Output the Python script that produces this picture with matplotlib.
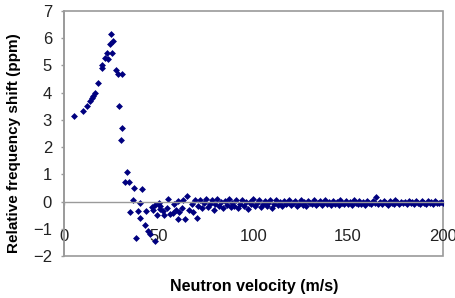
import matplotlib
matplotlib.use("Agg")
import matplotlib.pyplot as plt
from matplotlib.patches import Rectangle

plt.rcParams['font.family'] = ['Liberation Sans', 'DejaVu Sans']

# Early (low-velocity) points
vel_low = [5.3, 10.2, 12.0, 13.8, 14.6, 15.5, 16.4, 18.2, 19.9, 20.4, 21.7, 22.6, 23.1,
           24.3, 24.9, 25.2, 26.1, 27.5, 28.7, 29.3, 30.2, 30.5, 30.8, 32.3, 33.2, 34.4,
           34.9, 36.3, 37.0, 38.1, 39.0, 40.2, 40.2, 41.1, 42.9, 43.4, 44.6, 45.5, 46.4,
           47.0, 48.1, 48.1, 49.0, 50.4, 50.8, 51.0, 52.5, 53.0, 54.3, 55.0, 56.0, 57.8,
           58.0, 59.0, 60.5, 60.5, 61.0, 62.2, 63.0, 64.0, 64.9, 66.0, 67.5, 68.0, 69.0, 70.1]
shift_low = [3.16, 3.33, 3.51, 3.70, 3.82, 3.88, 4.00, 4.37, 4.92, 5.02, 5.29, 5.47, 5.23,
             5.78, 6.15, 5.47, 5.90, 4.83, 4.68, 3.51, 2.26, 4.70, 2.72, 0.70, 1.10, 0.70,
             -0.38, 0.05, 0.49, -1.33, -0.35, -0.04, -0.59, 0.47, -0.86, -0.35, -1.08, -1.20, -0.20,
             -0.30, -1.45, -0.12, -0.50, -0.04, -0.28, -0.15, -0.35, -0.50, -0.22, 0.10, -0.47, -0.41,
             -0.10, -0.30, 0.02, -0.65, -0.40, -0.22, 0.05, -0.65, 0.20, -0.30, -0.10, -0.40, 0.05, -0.59]

# Tail points, one per m/s from 71 to 200
vel_tail = list(range(71, 201))
shift_tail = [
    -0.15, 0.05, -0.25, -0.05, 0.10, -0.20, -0.10, 0.05, -0.30, -0.08,
    0.08, -0.18, -0.02, -0.25, 0.02, -0.12, 0.10, -0.20, -0.05, -0.15,
    0.05, -0.22, -0.08, 0.06, -0.15, -0.02, -0.28, 0.00, -0.10, 0.08,
    -0.18, -0.05, 0.04, -0.20, -0.10, 0.02, -0.15, -0.06, 0.05, -0.22,
    -0.08, 0.06, -0.12, -0.02, -0.18, 0.03, -0.10, -0.05, 0.07, -0.14,
    -0.04, 0.02, -0.16, -0.08, 0.04, -0.12, -0.02, -0.15, 0.03, -0.06,
    -0.10, 0.05, -0.14, -0.04, 0.02, -0.12, -0.06, 0.06, -0.10, -0.02,
    -0.14, 0.03, -0.08, -0.02, -0.12, 0.04, -0.06, -0.10, 0.02, -0.08,
    -0.03, -0.12, 0.04, -0.06, -0.10, 0.01, -0.08, -0.02, -0.12, 0.03,
    -0.06, -0.10, 0.02, -0.04, 0.15, -0.08, -0.02, -0.10, 0.03, -0.06,
    -0.12, 0.02, -0.05, -0.09, 0.04, -0.03, -0.10, 0.00, -0.07, -0.02,
    -0.10, 0.03, -0.06, -0.01, -0.09, 0.02, -0.05, -0.10, 0.01, -0.04,
    -0.08, 0.02, -0.06, -0.02, -0.09, 0.03, -0.04, -0.07, 0.00, -0.05,
]

x_ticks = [0, 50, 100, 150, 200]
y_ticks = [-2, -1, 0, 1, 2, 3, 4, 5, 6, 7]

fig = plt.figure(figsize=(4.56, 2.98), dpi=100)
ax = fig.add_axes([0.140, 0.141, 0.831, 0.822])

ax.plot(vel_low + vel_tail, shift_low + shift_tail, linestyle='none', marker='D',
        markersize=3.5, color='#00007f', markeredgewidth=0)

ax.set_xlim(0, 200)
ax.set_ylim(-2, 7)
ax.set_xticks(x_ticks)
ax.set_yticks(y_ticks)

gray = '#9a9a9a'
for s in ['top', 'right']:
    ax.spines[s].set_visible(False)
ax.spines['left'].set_color(gray)
ax.spines['left'].set_linewidth(1.2)
ax.spines['bottom'].set_position(('data', 0))
ax.spines['bottom'].set_color(gray)
ax.spines['bottom'].set_linewidth(1.0)
ax.add_patch(Rectangle((0, 0), 1, 1, transform=ax.transAxes, fill=False,
                       edgecolor=gray, linewidth=1.2, clip_on=False, zorder=0))

ax.tick_params(axis='y', direction='out', length=2.5, width=1, color=gray,
               labelsize=12, pad=6, labelcolor='#222222')
ax.tick_params(axis='x', direction='out', length=2.5, width=1, color=gray,
               labelsize=12, pad=17, labelcolor='#222222')

fig.text(0.030, 0.52, 'Relative frequency shift (ppm)', rotation=90, ha='center',
         va='center', fontsize=11, fontweight='bold')
fig.text(0.557, 0.04, 'Neutron velocity (m/s)', ha='center', va='center',
         fontsize=11.5, fontweight='bold')

fig.savefig('out.png', dpi=100)
